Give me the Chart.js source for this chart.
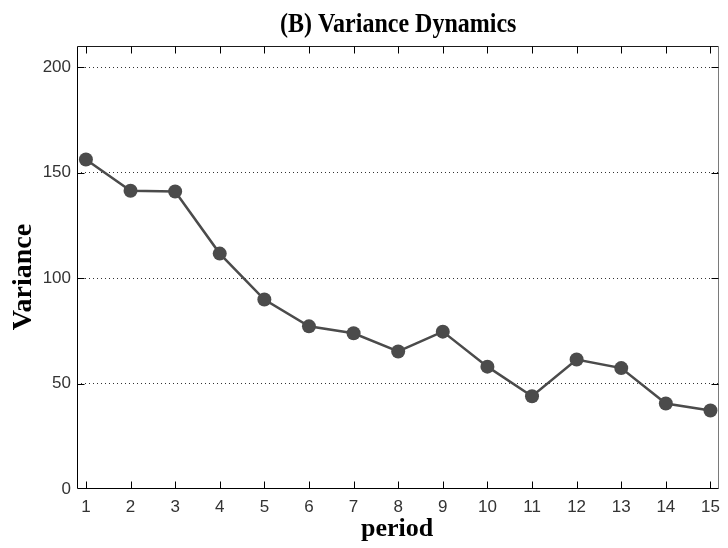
<!DOCTYPE html>
<html>
<head>
<meta charset="utf-8">
<script src="https://cdn.jsdelivr.net/npm/chart.js@4/dist/chart.umd.min.js"></script>
<style>
  html, body { margin: 0; padding: 0; background: #ffffff; }
  #wrap { width: 728px; height: 548px; }
</style>
</head>
<body>
<div id="wrap"><canvas id="chart" width="728" height="548"></canvas></div>
<script>
// Variance per period
const periods = [1, 2, 3, 4, 5, 6, 7, 8, 9, 10, 11, 12, 13, 14, 15];
const variance = [156.2, 141.4, 141.0, 111.6, 89.8, 77.1, 73.8, 65.2, 74.6, 58.0, 44.0, 61.4, 57.3, 40.5, 37.2];
const yTickValues = [0, 50, 100, 150, 200];
const xTickValues = periods;

const titleText = '(B) Variance Dynamics';
const xTitleText = 'period';
const yTitleText = 'Variance';

const serif = '"Liberation Serif", "Times New Roman", serif';
const sans = '"Liberation Sans", Arial, sans-serif';
const lineColor = '#4b4b4b';

// Box frame with inward ticks, plus title and axis labels
const framePlugin = {
  id: 'frame',
  beforeDatasetsDraw(chart) {
    const { ctx, chartArea: a, scales: { x, y } } = chart;
    const L = Math.round(a.left) + 0.5, R = Math.round(a.right) - 0.5;
    const T = Math.round(a.top) + 0.5, B = Math.round(a.bottom) - 0.5;
    const tick = 7;
    ctx.save();
    ctx.lineWidth = 1;
    // top and right edges
    ctx.strokeStyle = '#1a1a1a';
    ctx.beginPath(); ctx.moveTo(L, T); ctx.lineTo(R, T); ctx.stroke();
    ctx.strokeStyle = '#7a7a7a';
    ctx.beginPath(); ctx.moveTo(R, T); ctx.lineTo(R, B); ctx.stroke();
    // left and bottom axes
    ctx.strokeStyle = '#000000';
    ctx.beginPath(); ctx.moveTo(L, T); ctx.lineTo(L, B); ctx.lineTo(R, B); ctx.stroke();
    // x ticks, bottom and top, pointing inward
    ctx.beginPath();
    xTickValues.forEach(v => {
      const px = Math.round(x.getPixelForValue(v)) + 0.5;
      ctx.moveTo(px, B); ctx.lineTo(px, B - tick);
      ctx.moveTo(px, T); ctx.lineTo(px, T + tick);
    });
    ctx.stroke();
    // y ticks, left and right, pointing inward
    ctx.beginPath();
    yTickValues.forEach(v => {
      if (v === 0) return;
      const py = Math.round(y.getPixelForValue(v)) + 0.5;
      ctx.moveTo(L, py); ctx.lineTo(L + tick, py);
      ctx.moveTo(R, py); ctx.lineTo(R - tick, py);
    });
    ctx.stroke();
    ctx.restore();
  },
  afterDraw(chart) {
    const { ctx, chartArea: a } = chart;
    const cx = (a.left + a.right) / 2;
    ctx.save();
    ctx.fillStyle = '#000000';
    ctx.textAlign = 'center';
    ctx.textBaseline = 'alphabetic';
    // chart title, slightly tall lettering
    ctx.save();
    ctx.translate(cx, 31.5);
    ctx.scale(1, 1.15);
    ctx.font = 'bold 24px ' + serif;
    ctx.fillText(titleText, 0, 0);
    ctx.restore();
    // x axis title
    ctx.font = 'bold 26px ' + serif;
    ctx.fillText(xTitleText, cx - 1, 536);
    // y axis title
    ctx.translate(31, 277);
    ctx.rotate(-Math.PI / 2);
    ctx.font = 'bold 28px ' + serif;
    ctx.fillText(yTitleText, 0, 0);
    ctx.restore();
  }
};

new Chart(document.getElementById('chart'), {
  type: 'line',
  data: {
    datasets: [{
      label: yTitleText,
      data: periods.map((p, i) => ({ x: p, y: variance[i] })),
      borderColor: lineColor,
      backgroundColor: lineColor,
      borderWidth: 2.5,
      pointRadius: 7,
      pointBackgroundColor: lineColor,
      pointBorderColor: lineColor,
      pointBorderWidth: 0,
      tension: 0,
      fill: false
    }]
  },
  options: {
    responsive: false,
    animation: false,
    devicePixelRatio: 1,
    layout: { padding: { top: 46, right: 6, left: 0, bottom: 0 } },
    plugins: {
      legend: { display: false },
      title: { display: false },
      tooltip: { enabled: false }
    },
    scales: {
      x: {
        type: 'linear',
        min: 0.8,
        max: 15.2,
        afterBuildTicks: s => { s.ticks = xTickValues.map(v => ({ value: v })); },
        grid: { display: false, drawTicks: false },
        border: { display: false },
        ticks: {
          color: '#333333',
          font: { family: sans, size: 17 },
          padding: 8,
          maxRotation: 0,
          autoSkip: false
        },
        afterFit: s => { s.height = 59; }
      },
      y: {
        type: 'linear',
        min: 0,
        max: 210,
        afterBuildTicks: s => { s.ticks = yTickValues.map(v => ({ value: v })); },
        grid: {
          drawTicks: false,
          lineWidth: 1,
          color: c => (c.tick && c.tick.value === 0) ? 'rgba(0,0,0,0)' : '#333333'
        },
        border: { display: false, dash: [1, 3] },
        ticks: {
          color: '#333333',
          font: { family: sans, size: 17 },
          padding: 6,
          autoSkip: false
        },
        afterFit: s => { s.width = 77; }
      }
    }
  },
  plugins: [framePlugin]
});
</script>
</body>
</html>
